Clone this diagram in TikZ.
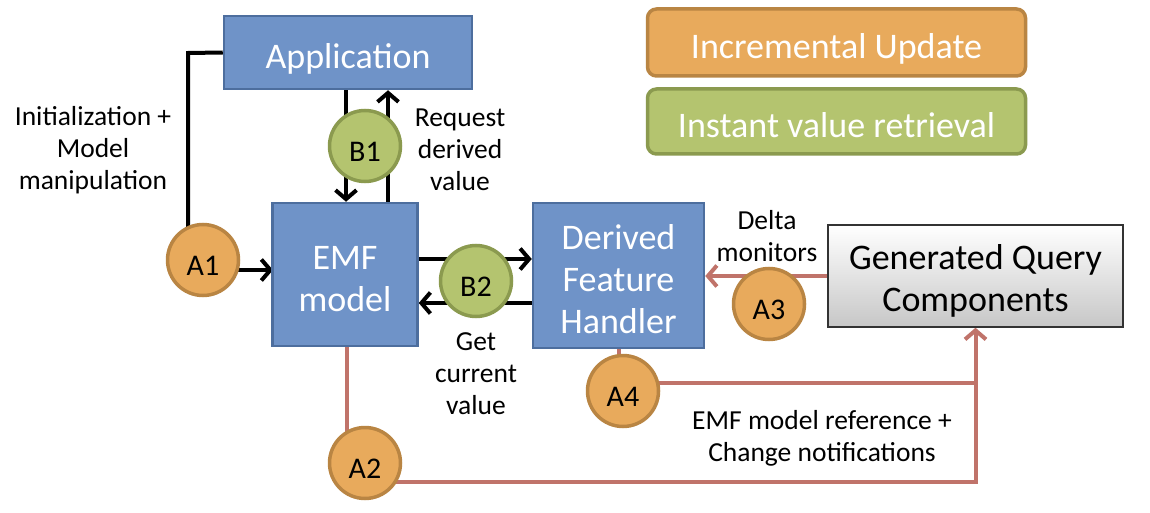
\documentclass[tikz,border=0pt]{standalone}
\usepackage{fontspec}
\setmainfont{Carlito}
\usetikzlibrary{arrows.meta,backgrounds}
\definecolor{bfill}{HTML}{6F93C8}
\definecolor{bdraw}{HTML}{4D6E9E}
\definecolor{ofill}{HTML}{E8AA5C}
\definecolor{odraw}{HTML}{B98543}
\definecolor{gfill}{HTML}{B4C46F}
\definecolor{gdraw}{HTML}{8B9A4F}
\definecolor{rline}{HTML}{C0736A}
\newcommand\ctext[2]{\raisebox{-#1}[\height][\depth]{\begin{tabular}{@{}c@{}}#2\end{tabular}}}
\tikzset{
  bluebox/.style={rectangle,fill=bfill,draw=bdraw,line width=2.5pt,text=white,font=\fontsize{36}{42}\selectfont,inner sep=0pt},
  legbox/.style={rectangle,rounded corners=9pt,line width=3.5pt,text=white,font=\fontsize{36}{42}\selectfont,inner sep=0pt,minimum width=378pt},
  ocirc/.style={circle,fill=ofill,draw=odraw,line width=3.5pt,minimum size=71pt,inner sep=0pt,font=\fontsize{30}{36}\selectfont},
  gcirc/.style={circle,fill=gfill,draw=gdraw,line width=3.5pt,minimum size=71pt,inner sep=0pt,font=\fontsize{30}{36}\selectfont},
  lbl/.style={align=center,font=\fontsize{27.5}{32}\selectfont,inner sep=0pt},
  blk/.style={line width=4pt,black},
  red/.style={line width=4pt,rline},
  tip/.style={-{Straight Barb[length=9pt,width=21pt,line width=4pt]}}
}
\begin{document}
\begin{tikzpicture}[x=1pt,y=-1pt]
\useasboundingbox (0,0) rectangle (1150,513);
% boxes
\node[bluebox,minimum width=248pt,minimum height=73pt] (App) at (348,52.5) {\ctext{8pt}{Application}};
\node[bluebox,minimum width=145pt,minimum height=143pt] (EMF) at (345,274.5) {\ctext{8pt}{EMF\\model}};
\node[bluebox,minimum width=171pt,minimum height=145pt] (DFH) at (618.5,275.5) {\ctext{7.5pt}{Derived\\Feature\\Handler}};
\node[rectangle,draw=black!80,line width=1.5pt,top color=white,bottom color=black!22,minimum width=295pt,minimum height=102pt,inner sep=0pt,font=\fontsize{36}{42}\selectfont] (GQC) at (975.5,276) {\ctext{6pt}{Generated Query\\Components}};
\node[legbox,fill=ofill,draw=odraw,minimum height=67pt] (L1) at (836.5,42.5) {\ctext{8pt}{Incremental Update}};
\node[legbox,fill=gfill,draw=gdraw,minimum height=65pt] (L2) at (836.5,121.5) {\ctext{8pt}{Instant value retrieval}};
% circles
\node[gcirc] (B1) at (365,146) {\ctext{8pt}{B1}};
\node[gcirc] (B2) at (476,281) {\ctext{8pt}{B2}};
\node[ocirc] (A1) at (203,260) {\ctext{8pt}{A1}};
\node[ocirc] (A2) at (365,463) {\ctext{8pt}{A2}};
\node[ocirc] (A3) at (769,304) {\ctext{8pt}{A3}};
\node[ocirc] (A4) at (623,391) {\ctext{8pt}{A4}};
% labels
\node[lbl] (t1) at (93,150) {Initialization +\\Model\\manipulation};
\node[lbl] (t2) at (460,150) {Request\\derived\\value};
\node[lbl] (t3) at (476,374) {Get\\current\\value};
\node[lbl] (t4) at (767,236) {Delta\\monitors};
\node[lbl] (t5) at (822,438) {EMF model reference +\\Change notifications};
% connectors
\coordinate (k1) at (188,53);
\coordinate (a1in) at (273,270);
\coordinate (b1d) at (346,89);
\coordinate (b1u) at (388,203);
\coordinate (b2r) at (418,259);
\coordinate (b2l) at (533,303);
\coordinate (k2) at (347,482);
\coordinate (k3) at (975.5,482);
\coordinate (k4) at (619,383);
\coordinate (k5) at (975.5,383);
\begin{scope}[on background layer]
\draw[blk] (App.west) -- (k1) -- (k1 |- A1.center);
\draw[blk,tip] (A1.center |- a1in) -- (a1in);
\draw[blk,tip] (b1d) -- (b1d |- EMF.north);
\draw[blk,tip] (b1u) -- (b1u |- App.south);
\draw[blk,tip] (b2r) -- (b2r -| DFH.west);
\draw[blk,tip] (b2l) -- (b2l -| EMF.east);
\draw[red,tip] (GQC.west) -- (GQC.west -| DFH.east);
\draw[red] (DFH.south -| k4) -- (k4) -- (k5);
\draw[red,tip] (EMF.south -| k2) -- (k2) -- (k3) -- (GQC.south);
\end{scope}
\end{tikzpicture}
\end{document}
